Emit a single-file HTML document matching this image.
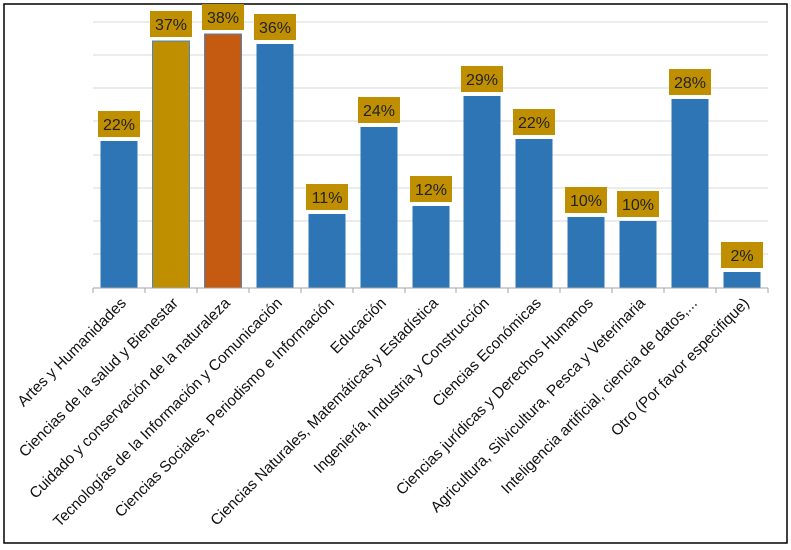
<!DOCTYPE html>
<html><head><meta charset="utf-8"><style>
body{margin:0;background:#fff;}
svg{display:block;font-family:"Liberation Sans",sans-serif;}
</style></head><body>
<svg width="791" height="550" viewBox="0 0 791 550">
<rect x="4" y="4" width="783" height="539" fill="#fff" stroke="#000" stroke-width="1.5"/>
<g stroke="#d9d9d9" stroke-width="1">
<line x1="93" y1="22" x2="768" y2="22"/><line x1="93" y1="55" x2="768" y2="55"/>
<line x1="93" y1="88" x2="768" y2="88"/><line x1="93" y1="121" x2="768" y2="121"/>
<line x1="93" y1="155" x2="768" y2="155"/><line x1="93" y1="188" x2="768" y2="188"/>
<line x1="93" y1="221" x2="768" y2="221"/><line x1="93" y1="254" x2="768" y2="254"/>
</g>
<g>
<rect x="100.5" y="141" width="37" height="147" fill="#2E75B6"/>
<rect x="152.5" y="41" width="37" height="247" fill="#BF8F00" stroke="#4a86c0" stroke-width="1"/>
<rect x="204.5" y="34" width="37" height="254" fill="#C55A11" stroke="#4a86c0" stroke-width="1"/>
<rect x="256.5" y="44" width="37" height="244" fill="#2E75B6"/>
<rect x="308.5" y="214" width="37" height="74" fill="#2E75B6"/>
<rect x="360.5" y="127" width="37" height="161" fill="#2E75B6"/>
<rect x="412.5" y="206" width="37" height="82" fill="#2E75B6"/>
<rect x="463.5" y="96" width="37" height="192" fill="#2E75B6"/>
<rect x="515.5" y="139" width="37" height="149" fill="#2E75B6"/>
<rect x="567.5" y="217" width="37" height="71" fill="#2E75B6"/>
<rect x="619.5" y="221" width="37" height="67" fill="#2E75B6"/>
<rect x="671.5" y="99" width="37" height="189" fill="#2E75B6"/>
<rect x="723.5" y="272" width="37" height="16" fill="#2E75B6"/>
</g>
<g fill="#BF8F00">
<rect x="98" y="111" width="42" height="26"/>
<rect x="150" y="11" width="42" height="26"/>
<rect x="202" y="4" width="42" height="26"/>
<rect x="254" y="14" width="42" height="26"/>
<rect x="306" y="184" width="42" height="26"/>
<rect x="358" y="97" width="42" height="26"/>
<rect x="410" y="176" width="42" height="26"/>
<rect x="461" y="66" width="42" height="26"/>
<rect x="513" y="109" width="42" height="26"/>
<rect x="565" y="187" width="42" height="26"/>
<rect x="617" y="191" width="42" height="26"/>
<rect x="669" y="69" width="42" height="26"/>
<rect x="721" y="242" width="42" height="26"/>
</g>
<g font-size="16" text-anchor="middle" fill="#222">
<text x="119" y="130">22%</text>
<text x="171" y="30">37%</text>
<text x="223" y="23">38%</text>
<text x="275" y="33">36%</text>
<text x="327" y="203">11%</text>
<text x="379" y="116">24%</text>
<text x="431" y="195">12%</text>
<text x="482" y="85">29%</text>
<text x="534" y="128">22%</text>
<text x="586" y="206">10%</text>
<text x="638" y="210">10%</text>
<text x="690" y="88">28%</text>
<text x="742" y="261">2%</text>
</g>
<line x1="93" y1="288" x2="768" y2="288" stroke="#a6a6a6"/>
<g stroke="#a6a6a6">
<line x1="93" y1="288" x2="93" y2="293"/><line x1="145" y1="288" x2="145" y2="293"/>
<line x1="197" y1="288" x2="197" y2="293"/><line x1="249" y1="288" x2="249" y2="293"/>
<line x1="301" y1="288" x2="301" y2="293"/><line x1="353" y1="288" x2="353" y2="293"/>
<line x1="405" y1="288" x2="405" y2="293"/><line x1="456" y1="288" x2="456" y2="293"/>
<line x1="508" y1="288" x2="508" y2="293"/><line x1="560" y1="288" x2="560" y2="293"/>
<line x1="612" y1="288" x2="612" y2="293"/><line x1="664" y1="288" x2="664" y2="293"/>
<line x1="716" y1="288" x2="716" y2="293"/><line x1="768" y1="288" x2="768" y2="293"/>
</g>
<g font-size="15.3" text-anchor="end" fill="#111">
<text transform="translate(127,304) rotate(-45)">Artes y Humanidades</text>
<text transform="translate(179,304) rotate(-45)">Ciencias de la salud y Bienestar</text>
<text transform="translate(231,304) rotate(-45)">Cuidado y conservación de la naturaleza</text>
<text transform="translate(283,304) rotate(-45)">Tecnologías de la Información y Comunicación</text>
<text transform="translate(335,304) rotate(-45)">Ciencias Sociales, Periodismo e Información</text>
<text transform="translate(387,304) rotate(-45)">Educación</text>
<text transform="translate(439,304) rotate(-45)">Ciencias Naturales, Matemáticas y Estadística</text>
<text transform="translate(490,304) rotate(-45)">Ingeniería, Industria y Construcción</text>
<text transform="translate(542,304) rotate(-45)">Ciencias Económicas</text>
<text transform="translate(594,304) rotate(-45)">Ciencias jurídicas y Derechos Humanos</text>
<text transform="translate(646,304) rotate(-45)">Agricultura, Silvicultura, Pesca y Veterinaria</text>
<text transform="translate(698,304) rotate(-45)">Inteligencia artificial, ciencia de datos,...</text>
<text transform="translate(750,304) rotate(-45)">Otro (Por favor especifique)</text>
</g>
</svg>
</body></html>
